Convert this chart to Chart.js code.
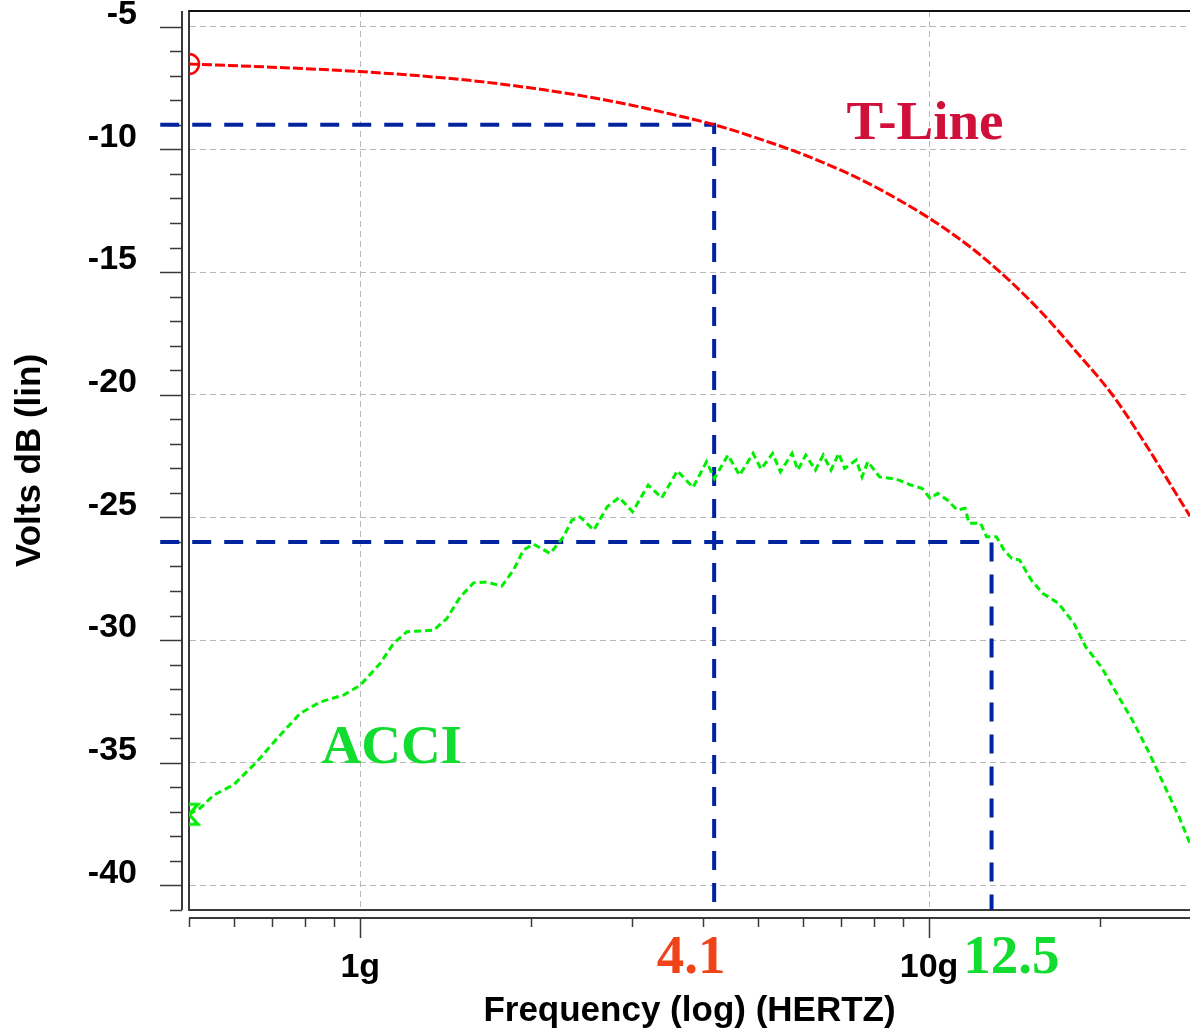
<!DOCTYPE html>
<html>
<head>
<meta charset="utf-8">
<script src="https://cdn.jsdelivr.net/npm/chart.js@4/dist/chart.umd.min.js"></script>
<style>
html,body{margin:0;padding:0;background:#fff;overflow:hidden}
canvas{display:block}
</style>
</head>
<body>
<canvas id="c" width="1190" height="1031"></canvas>
<script>
// ---------- data (frequency in GHz, level in dB) ----------
const tlineFreq = [0.5, 0.7, 1.0, 1.5, 2.0, 2.5, 3.0, 3.5, 4.2, 5.0, 6.0, 7.0, 8.0, 10.0, 12.0, 14.0, 16.0, 18.0, 21.0, 24.0, 26.0, 28.76];
const tlineDb   = [-6.52, -6.65, -6.83, -7.15, -7.5, -7.85, -8.2, -8.55, -9.0, -9.55, -10.2, -10.85, -11.5, -12.8, -14.1, -15.45, -16.8, -18.15, -20.0, -22.0, -23.3, -24.95];

const acciFreq = [0.50, 0.523, 0.5525, 0.5989, 0.658, 0.714, 0.784, 0.851, 0.935, 1.0, 1.084, 1.144, 1.208, 1.346, 1.420, 1.499, 1.582, 1.670, 1.774, 1.859, 1.936, 2.017, 2.158, 2.277, 2.356, 2.436, 2.574, 2.717, 2.853, 3.012, 3.208, 3.390, 3.610, 3.846, 4.063, 4.194, 4.431, 4.645, 4.905, 5.065, 5.309, 5.479, 5.744, 5.881, 6.070, 6.313, 6.515, 6.724, 6.939, 7.104, 7.448, 7.624, 7.805, 8.185, 8.582, 8.854, 9.284, 9.732, 10.04, 10.36, 10.78, 11.21, 11.57, 11.76, 12.32, 12.62, 13.13, 13.55, 13.98, 14.43, 15.12, 15.86, 16.88, 17.98, 18.85, 20.08, 21.38, 22.77, 24.25, 25.82, 27.51, 28.76];
const acciDb   = [-37.1, -36.85, -36.32, -35.9, -34.96, -34.01, -32.99, -32.52, -32.24, -31.84, -30.95, -30.14, -29.66, -29.6, -29.12, -28.24, -27.67, -27.63, -27.8, -27.15, -26.33, -26.09, -26.47, -25.79, -25.11, -24.98, -25.52, -24.57, -24.19, -24.77, -23.68, -24.2, -23.1, -23.78, -22.73, -23.41, -22.46, -23.28, -22.39, -23.03, -22.39, -23.14, -22.39, -23.07, -22.46, -23.07, -22.46, -23.07, -22.39, -23.0, -22.66, -23.35, -22.73, -23.35, -23.41, -23.48, -23.68, -23.82, -24.22, -24.02, -24.3, -24.7, -24.63, -25.24, -25.24, -25.79, -25.79, -26.33, -26.67, -26.74, -27.55, -28.1, -28.5, -29.32, -30.27, -31.09, -32.18, -33.26, -34.49, -35.84, -37.2, -38.29];

// marker (cursor) lines
const cursor1Freq = [0.445, 4.19, 4.19];
const cursor1Db   = [-9, -9, -41];
const cursor2Freq = [0.445, 12.88, 12.88];
const cursor2Db   = [-26, -26, -41];

// ticks
const xTickValues = [0.5, 0.6, 0.7, 0.8, 0.9, 1, 2, 3, 4, 5, 6, 7, 8, 9, 10, 20];
const xMajorTicks = [1, 10];
const xMajorLabels = ['1g', '10g'];
const yTickValues = [-41, -40, -39, -38, -37, -36, -35, -34, -33, -32, -31, -30, -29, -28, -27, -26, -25, -24, -23, -22, -21, -20, -19, -18, -17, -16, -15, -14, -13, -12, -11, -10, -9, -8, -7, -6, -5];
const yMajorTicks = [-40, -35, -30, -25, -20, -15, -10, -5];

// annotation texts (positioned in data units)
const noteTexts = ['T-Line', 'ACCI', '4.1', '12.5'];
const noteFreq  = [9.84, 1.136, 3.817, 13.96];
const noteDb    = [-9.58, -35.02, -43.58, -43.58];
const noteColors = ['#d0103a', '#12dc30', '#f04418', '#12dc30'];

const xTitle = 'Frequency (log) (HERTZ)';
const yTitle = 'Volts dB (lin)';

// ---------- helpers ----------
const pts = (xs, ys) => xs.map((v, i) => ({x: v, y: ys[i]}));

function hourglass(color) {
  const c = document.createElement('canvas');
  c.width = 24; c.height = 26;
  const g = c.getContext('2d');
  g.strokeStyle = color; g.lineWidth = 3; g.lineJoin = 'miter';
  g.beginPath();
  g.moveTo(3, 3); g.lineTo(21, 3); g.lineTo(3, 23); g.lineTo(21, 23); g.closePath();
  g.stroke();
  return c;
}
const acciMarker = hourglass('#00ee00');

const tickFont = {family: '"Liberation Sans", Arial, sans-serif', size: 34, weight: 'bold', lineHeight: 1.2};
const titleFontX = {family: '"Liberation Sans", Arial, sans-serif', size: 35, weight: 'bold', lineHeight: 1.1};
const titleFontY = {family: '"Liberation Sans", Arial, sans-serif', size: 35, weight: 'bold', lineHeight: 1.2};
const gridColor = '#b8b8b8';
const axisColor = '#3a3a3a';

const axisPlugin = {
  id: 'axisMarks',
  beforeDatasetsDraw(chart) {
    const {ctx, chartArea: a} = chart;
    const xs = chart.scales.x, ys = chart.scales.y;
    ctx.save();
    // top frame line
    ctx.strokeStyle = '#111';
    ctx.lineWidth = 2;
    ctx.beginPath(); ctx.moveTo(a.left, a.top); ctx.lineTo(a.right, a.top); ctx.stroke();
    // detached y axis
    const yx = a.left - 7;
    ctx.strokeStyle = axisColor;
    ctx.lineWidth = 2;
    ctx.beginPath(); ctx.moveTo(yx, a.top); ctx.lineTo(yx, a.bottom); ctx.stroke();
    ctx.lineWidth = 1.5;
    ys.ticks.forEach(t => {
      const py = Math.round(ys.getPixelForValue(t.value)) + 0.5;
      const len = yMajorTicks.includes(t.value) ? 22 : 12;
      ctx.beginPath(); ctx.moveTo(yx - len, py); ctx.lineTo(yx, py); ctx.stroke();
    });
    // detached x axis
    const xy = a.bottom + 8;
    ctx.lineWidth = 2;
    ctx.beginPath(); ctx.moveTo(a.left, xy); ctx.lineTo(a.right, xy); ctx.stroke();
    ctx.lineWidth = 1.5;
    xs.ticks.forEach(t => {
      const px = Math.round(xs.getPixelForValue(t.value)) + 0.5;
      const len = xMajorTicks.includes(t.value) ? 20 : 9;
      ctx.beginPath(); ctx.moveTo(px, xy); ctx.lineTo(px, xy + len); ctx.stroke();
    });
    ctx.restore();
  },
  afterDatasetsDraw(chart) {
    const {ctx} = chart;
    const xs = chart.scales.x, ys = chart.scales.y;
    ctx.save();
    ctx.font = 'bold 55px "Liberation Serif", "DejaVu Serif", serif';
    ctx.textAlign = 'center';
    ctx.textBaseline = 'alphabetic';
    noteTexts.forEach((t, i) => {
      ctx.fillStyle = noteColors[i];
      ctx.fillText(t, xs.getPixelForValue(noteFreq[i]), ys.getPixelForValue(noteDb[i]));
    });
    ctx.restore();
  }
};

new Chart(document.getElementById('c'), {
  type: 'line',
  data: {
    datasets: [
      {
        label: 'T-Line',
        data: pts(tlineFreq, tlineDb),
        borderColor: '#ff0000',
        borderWidth: 3,
        borderDash: [10, 3],
        cubicInterpolationMode: 'monotone',
        pointRadius: c => c.dataIndex === 0 ? 10 : 0,
        pointStyle: 'circle',
        pointBorderColor: '#ff0000',
        pointBackgroundColor: 'rgba(0,0,0,0)',
        pointBorderWidth: 2.5,
        clip: 0,
        fill: false
      },
      {
        label: 'ACCI',
        data: pts(acciFreq, acciDb),
        borderColor: '#00ee00',
        borderWidth: 3,
        borderDash: [7, 4],
        tension: 0,
        pointRadius: c => c.dataIndex === 0 ? 10 : 0,
        pointStyle: c => c.dataIndex === 0 ? acciMarker : 'circle',
        clip: 0,
        fill: false
      },
      {
        label: 'cursor1',
        data: pts(cursor1Freq, cursor1Db),
        borderColor: '#0024a0',
        borderWidth: 4,
        borderDash: [19, 13],
        pointRadius: 0,
        tension: 0,
        clip: false,
        fill: false
      },
      {
        label: 'cursor2',
        data: pts(cursor2Freq, cursor2Db),
        borderColor: '#0024a0',
        borderWidth: 4,
        borderDash: [19, 13],
        pointRadius: 0,
        tension: 0,
        clip: false,
        fill: false
      }
    ]
  },
  options: {
    responsive: false,
    animation: false,
    devicePixelRatio: 1,
    events: [],
    layout: {autoPadding: false, padding: {top: 11, left: 0, right: 0, bottom: 0}},
    plugins: {legend: {display: false}, tooltip: {enabled: false}},
    scales: {
      x: {
        type: 'logarithmic',
        min: 0.5,
        max: 28.76,
        bounds: 'data',
        afterBuildTicks: s => { s.ticks = xTickValues.map(v => ({value: v, major: xMajorTicks.includes(v)})); },
        afterFit: s => { s.height = 121; s.paddingLeft = 0; s.paddingRight = 0; s.paddingTop = 0; s.paddingBottom = 0; },
        ticks: {
          autoSkip: false, maxRotation: 0, minRotation: 0, padding: 37,
          font: tickFont, color: '#000',
          callback: v => { const k = xMajorTicks.indexOf(v); return k >= 0 ? xMajorLabels[k] : ''; }
        },
        grid: {
          drawTicks: false, lineWidth: 1,
          color: c => (c.tick && xMajorTicks.includes(c.tick.value)) ? gridColor : 'rgba(0,0,0,0)'
        },
        border: {display: true, color: axisColor, width: 2, dash: [6, 4]},
        title: {display: true, text: xTitle, font: titleFontX, color: '#000', padding: {top: 0, bottom: 0}}
      },
      y: {
        type: 'linear',
        min: -41,
        max: -4.36,
        bounds: 'data',
        afterBuildTicks: s => { s.ticks = yTickValues.map(v => ({value: v})); },
        afterFit: s => { s.width = 189; s.paddingTop = 0; s.paddingBottom = 0; s.paddingLeft = 0; s.paddingRight = 0; },
        ticks: {
          autoSkip: false, padding: 52, labelOffset: -12,
          font: tickFont, color: '#000',
          callback: v => yMajorTicks.includes(v) ? String(v) : ''
        },
        grid: {
          drawTicks: false, lineWidth: 1,
          color: c => (c.tick && yMajorTicks.includes(c.tick.value)) ? gridColor : 'rgba(0,0,0,0)'
        },
        border: {display: true, color: axisColor, width: 2, dash: [6, 4]},
        title: {display: true, text: yTitle, font: titleFontY, color: '#000', padding: {top: 9, bottom: 0}}
      }
    }
  },
  plugins: [axisPlugin]
});
</script>
</body>
</html>
